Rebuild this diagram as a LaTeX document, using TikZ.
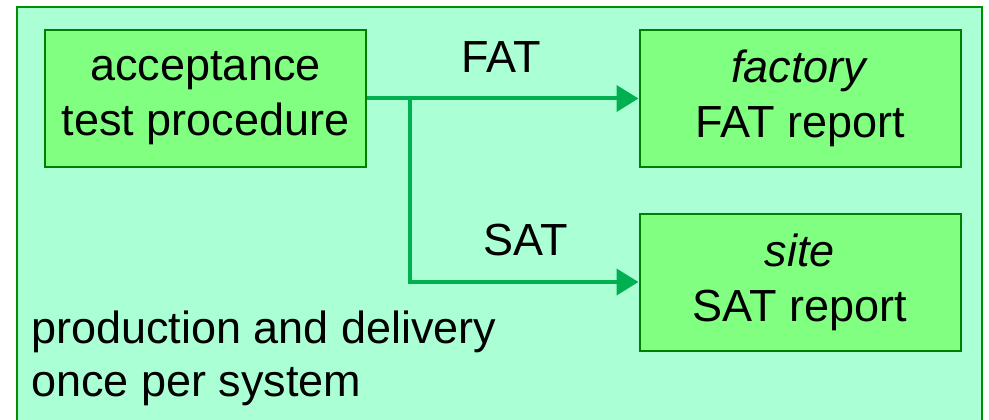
\documentclass[tikz,border=0pt]{standalone}
\usepackage{fontspec}
\setmainfont{Liberation Sans}
\usetikzlibrary{arrows.meta}
\definecolor{outerfill}{HTML}{AAFFD4}
\definecolor{outerline}{HTML}{009000}
\definecolor{boxfill}{HTML}{80FF80}
\definecolor{boxline}{HTML}{008000}
\definecolor{arrowc}{HTML}{00B050}
\begin{document}
\begin{tikzpicture}[x=1pt,y=-1pt,
  every node/.style={font=\fontsize{45}{55}\selectfont, inner sep=0pt},
  stepbox/.style={draw=boxline, line width=2pt, fill=boxfill, minimum width=321pt, minimum height=137pt, align=center},
  conn/.style={draw=arrowc, line width=4pt},
  tipc/.style={-{Triangle[length=22pt,width=26pt]}}]
\useasboundingbox (0,0) rectangle (989,420);
\fill[outerfill] (17,7) rectangle (982,440);
\draw[outerline, line width=2pt] (17,440) -- (17,7) -- (982,7) -- (982,440);
\node[stepbox] (atp) at (205.5,98.5) {acceptance\\test procedure};
\node[stepbox] (fat) at (800,98.5) {\textit{factory}\\FAT report};
\node[stepbox] (sat) at (800,282) {\textit{site}\\SAT report};
\coordinate (br) at (410,98.5);
\coordinate (bl) at (410,282);
\draw[conn, tipc] (atp.east) -- (fat.west);
\draw[conn, tipc, line join=miter] (br) -- (bl) -- (sat.west);
\node[anchor=base] (fatl) at (501,73) {FAT};
\node[anchor=base] (satl) at (526,255) {SAT};
\node[anchor=base west] (t1) at (31,343) {production and delivery};
\node[anchor=base west] (t2) at (31,396) {once per system};
\end{tikzpicture}
\end{document}
